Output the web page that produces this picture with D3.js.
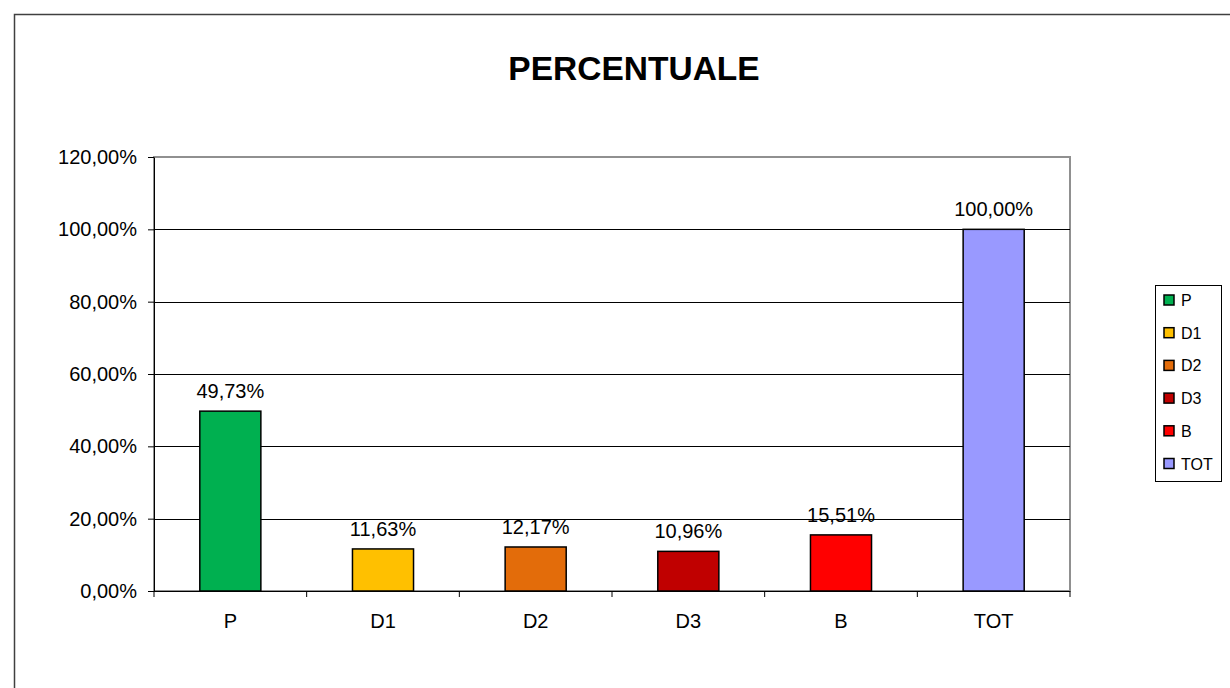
<!DOCTYPE html>
<html>
<head>
<meta charset="utf-8">
<script src="https://cdn.jsdelivr.net/npm/d3@7"></script>
<style>
  body { margin: 0; background: #fff; }
  text { font-family: "Liberation Sans", Arial, sans-serif; }
</style>
</head>
<body>
<div id="chart"></div>
<script>
// data
let categories = ["P", "D1", "D2", "D3", "B", "TOT"];
let values = [49.73, 11.63, 12.17, 10.96, 15.51, 100.00];
let colors = ["#00b050", "#ffc000", "#e36c0a", "#c00000", "#ff0000", "#9999ff"];
let yTicks = [0, 20, 40, 60, 80, 100, 120];

const W = 1230, H = 688;
const plot = {left: 154, top: 157, right: 1070, bottom: 591};

let fmt = v => v.toFixed(2).replace(".", ",") + "%";

const svg = d3.select("#chart").append("svg")
  .attr("width", W).attr("height", H);

// outer chart frame
svg.append("rect")
  .attr("x", 14.5).attr("y", 14.5)
  .attr("width", 1240).attr("height", 700)
  .attr("fill", "none").attr("stroke", "#404040").attr("stroke-width", 1.5);

svg.append("text")
  .attr("x", 634).attr("y", 80)
  .attr("text-anchor", "middle")
  .attr("font-size", 33.5).attr("font-weight", "bold")
  .text("PERCENTUALE");

let x = d3.scaleBand().domain(categories)
  .range([plot.left, plot.right]).paddingInner(0.6).paddingOuter(0.3);
let xb = d3.scaleBand().domain(categories).range([plot.left, plot.right]);
let y = d3.scaleLinear().domain([0, 120]).range([plot.bottom, plot.top]);

// plot area border (grey)
svg.append("rect")
  .attr("x", plot.left).attr("y", plot.top)
  .attr("width", plot.right - plot.left).attr("height", plot.bottom - plot.top)
  .attr("fill", "none").attr("stroke", "#909090").attr("stroke-width", 2);

// gridlines
svg.append("g").selectAll("line")
  .data(yTicks.filter(t => t > 0 && t < 120))
  .join("line")
  .attr("x1", plot.left).attr("x2", plot.right)
  .attr("y1", d => Math.round(y(d)) + 0.5).attr("y2", d => Math.round(y(d)) + 0.5)
  .attr("stroke", "#000").attr("stroke-width", 1);

// y axis
let yAxis = svg.append("g")
  .attr("transform", `translate(${plot.left},0)`)
  .call(d3.axisLeft(y).tickValues(yTicks).tickFormat(fmt).tickSize(6).tickSizeOuter(0));
yAxis.selectAll("text").attr("font-size", 20).attr("fill", "#000").attr("dx", -8);
yAxis.selectAll("line, path").attr("stroke", "#000");

// x axis with ticks at band boundaries
svg.append("line")
  .attr("x1", plot.left).attr("x2", plot.right)
  .attr("y1", plot.bottom + 0.5).attr("y2", plot.bottom + 0.5)
  .attr("stroke", "#000");
svg.append("g").selectAll("line")
  .data(categories.map(c => xb(c)).concat([plot.right]))
  .join("line")
  .attr("x1", d => d).attr("x2", d => d)
  .attr("y1", plot.bottom).attr("y2", plot.bottom + 6)
  .attr("stroke", "#000");
svg.append("g").selectAll("text")
  .data(categories)
  .join("text")
  .attr("x", d => xb(d) + xb.bandwidth() / 2)
  .attr("y", plot.bottom + 37)
  .attr("text-anchor", "middle")
  .attr("font-size", 20)
  .text(d => d);

// bars
svg.append("g").selectAll("rect")
  .data(categories)
  .join("rect")
  .attr("x", d => x(d))
  .attr("y", (d, i) => y(values[i]))
  .attr("width", x.bandwidth())
  .attr("height", (d, i) => y(0) - y(values[i]))
  .attr("fill", (d, i) => colors[i])
  .attr("stroke", "#000").attr("stroke-width", 1.5);

// value labels
svg.append("g").selectAll("text")
  .data(categories)
  .join("text")
  .attr("x", d => x(d) + x.bandwidth() / 2)
  .attr("y", (d, i) => y(values[i]) - 13)
  .attr("text-anchor", "middle")
  .attr("font-size", 20)
  .text((d, i) => fmt(values[i]));

// legend
let lg = svg.append("g");
lg.append("rect")
  .attr("x", 1155.5).attr("y", 285.5).attr("width", 66).attr("height", 196)
  .attr("fill", "#fff").attr("stroke", "#000").attr("stroke-width", 1);
let item = lg.selectAll("g")
  .data(categories)
  .join("g")
  .attr("transform", (d, i) => `translate(1164,${300 + i * 32.7})`);
item.append("rect")
  .attr("x", 0).attr("y", -5).attr("width", 10).attr("height", 10)
  .attr("fill", (d, i) => colors[i]).attr("stroke", "#000").attr("stroke-width", 1.5);
item.append("text")
  .attr("x", 17).attr("y", 6)
  .attr("font-size", 16)
  .text(d => d);
</script>
</body>
</html>
